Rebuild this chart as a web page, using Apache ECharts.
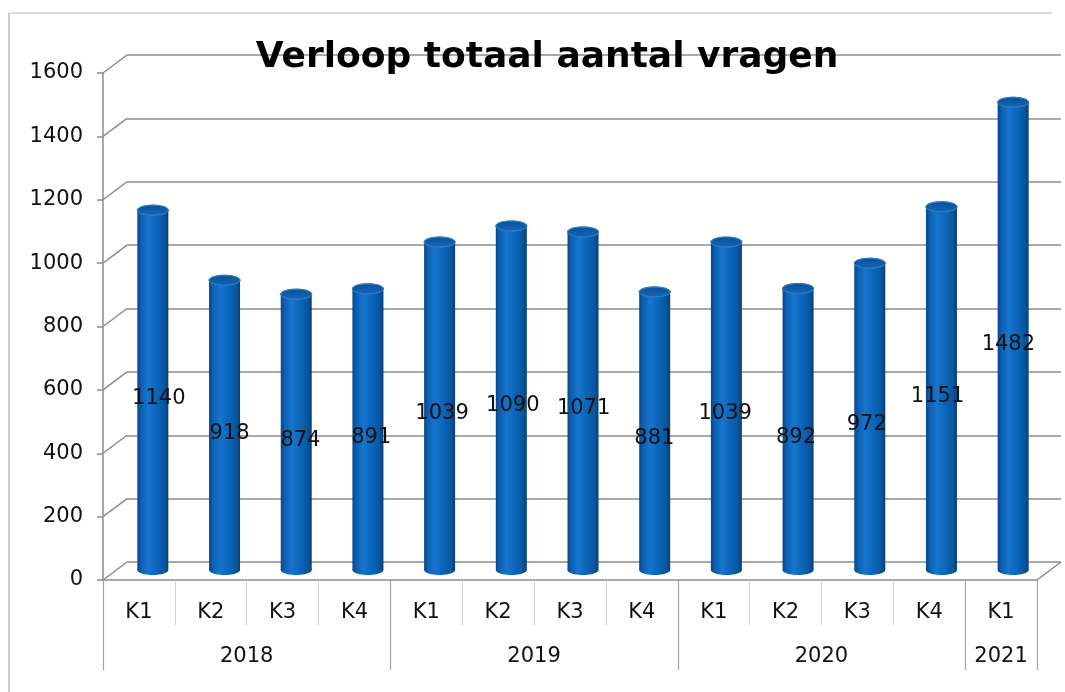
<!DOCTYPE html>
<html>
<head>
<meta charset="utf-8">
<title>Verloop totaal aantal vragen</title>
<script src="https://cdn.jsdelivr.net/npm/echarts@6/dist/echarts.min.js"></script>
<style>
    html, body { margin: 0; padding: 0; background: #fff; overflow: hidden; }
    #chart { width: 1065px; height: 692px; }
</style>
</head>
<body>
<div id="chart"></div>
<script>
// data
const quarters = ['K1', 'K2', 'K3', 'K4', 'K1', 'K2', 'K3', 'K4', 'K1', 'K2', 'K3', 'K4', 'K1']
const values = [1140, 918, 874, 891, 1039, 1090, 1071, 881, 1039, 892, 972, 1151, 1482]
const years = ['2018', '2019', '2020', '2021']
const yearSpans = [4, 4, 4, 1] // aantal kwartalen per jaar
const yTicks = [0, 200, 400, 600, 800, 1000, 1200, 1400, 1600]

const yMin = yTicks[0]
const yMax = yTicks[yTicks.length - 1]
const yStep = yTicks[1] - yTicks[0]

// jaargrenzen en -midden (in kwartalen)
const yearBounds = [0]
yearSpans.forEach(s => yearBounds.push(yearBounds[yearBounds.length - 1] + s))
const yearCenters = yearSpans.map((s, i) => yearBounds[i] + s / 2)

const font = 'DejaVu Sans'
const textColor = '#111'
const gridColor = '#8c8c8c'

// 3D-achtig: achterwand, voorvlak (assen), middenvlak (cilinders)
const grids = [
    { left: 127, top: 55, width: 934, height: 507 }, // achterwand
    { left: 103, top: 73, width: 934, height: 507 }, // voorvlak
    { left: 117, top: 65, width: 932, height: 505 } // cilinders
]

function valueAxis(gridIndex, extra) {
    const setting = {
        type: 'value',
        gridIndex,
        min: yMin,
        max: yMax,
        interval: yStep,
        axisLabel: { show: false },
        axisLine: { show: false },
        axisTick: { show: false },
        splitLine: { show: false }
    }
    return { ...setting, ...extra }
}

function hiddenCategory(gridIndex) {
    return { type: 'category', gridIndex, data: quarters, show: false }
}

const cylinderFill = {
    type: 'linear', x: 0, y: 0, x2: 1, y2: 0,
    colorStops: [
        { offset: 0, color: '#0a4686' },
        { offset: 0.12, color: '#0c5fb1' },
        { offset: 0.35, color: '#1675cc' },
        { offset: 0.65, color: '#0a64b8' },
        { offset: 0.88, color: '#08559d' },
        { offset: 1, color: '#083e76' }
    ]
}

function renderCylinder(params, api) {
    const idx = api.value(0)
    const top = api.coord([idx, api.value(1)])
    const base = api.coord([idx, 0])
    const w = 31
    const ry = 5
    const cx = top[0]
    const dx = 6 - params.dataIndex * 0.9 // labels schuiven iets mee met het perspectief
    return {
        type: 'group',
        children: [
            { type: 'ellipse', shape: { cx, cy: base[1], rx: w / 2, ry }, style: { fill: cylinderFill } },
            { type: 'rect', shape: { x: cx - w / 2, y: top[1], width: w, height: base[1] - top[1] }, style: { fill: cylinderFill } },
            {
                type: 'ellipse',
                shape: { cx, cy: top[1], rx: w / 2, ry },
                style: {
                    fill: { type: 'linear', x: 0, y: 0, x2: 0, y2: 1, colorStops: [{ offset: 0, color: '#0b4f98' }, { offset: 1, color: '#1367b8' }] },
                    stroke: '#2a7cc8',
                    lineWidth: 1
                }
            },
            {
                type: 'text',
                x: cx + dx,
                y: (top[1] + base[1]) / 2 + 8,
                style: {
                    text: String(api.value(1)),
                    fill: textColor,
                    font: '21px "' + font + '"',
                    align: 'center',
                    verticalAlign: 'middle'
                },
                z2: 10
            }
        ]
    }
}

const option = {
    backgroundColor: '#fff',
    animation: false,
    title: {
        text: 'Verloop totaal aantal vragen',
        left: 542,
        top: 35,
        textAlign: 'center',
        textStyle: { fontFamily: font, fontWeight: 'bold', fontSize: 36, color: '#000' }
    },
    grid: grids,
    xAxis: [
        hiddenCategory(0),
        { // kwartalen
            type: 'category',
            gridIndex: 1,
            data: quarters,
            axisLine: { show: true, lineStyle: { color: gridColor, width: 1.5 } },
            axisTick: { show: true, interval: 0, length: 45, lineStyle: { color: '#d0d0d0', width: 1 } },
            axisLabel: { interval: 0, margin: 22, fontFamily: font, fontSize: 21, color: textColor },
            splitLine: { show: false }
        },
        { // jaren
            type: 'value',
            gridIndex: 1,
            position: 'bottom',
            min: 0,
            max: quarters.length,
            axisLine: { show: false },
            axisTick: { show: true, customValues: yearBounds, length: 90, lineStyle: { color: '#a4a4a4', width: 1.2 } },
            axisLabel: {
                customValues: yearCenters,
                margin: 66,
                fontFamily: font,
                fontSize: 21,
                color: textColor,
                formatter: v => years[yearCenters.indexOf(v)]
            },
            splitLine: { show: false }
        },
        hiddenCategory(2)
    ],
    yAxis: [
        valueAxis(0, { splitLine: { show: true, lineStyle: { color: gridColor, width: 1.5 } } }),
        valueAxis(1, {
            axisLine: { show: true, lineStyle: { color: gridColor, width: 1.5 } },
            axisTick: { show: true, length: 6, lineStyle: { color: gridColor, width: 1.5 } },
            axisLabel: { show: true, margin: 20, fontFamily: font, fontSize: 21, color: textColor, formatter: v => String(v) }
        }),
        valueAxis(2)
    ],
    series: [{
        type: 'custom',
        xAxisIndex: 3,
        yAxisIndex: 2,
        renderItem: renderCylinder,
        data: values.map((v, i) => [i, v]),
        z: 5
    }]
}

const chart = echarts.init(document.getElementById('chart'))
chart.setOption(option)

// schuine verbindingen voorvlak -> achterwand en het kader
const lines = yTicks.map(t => {
    const p1 = chart.convertToPixel({ yAxisIndex: 1 }, t)
    const p0 = chart.convertToPixel({ yAxisIndex: 0 }, t)
    return { type: 'line', shape: { x1: grids[1].left, y1: p1, x2: grids[0].left, y2: p0 }, style: { stroke: gridColor, lineWidth: 1.5 }, silent: true }
})
const frontRight = grids[1].left + grids[1].width
const backRight = grids[0].left + grids[0].width
lines.push({
    type: 'line',
    shape: { x1: frontRight, y1: chart.convertToPixel({ yAxisIndex: 1 }, 0), x2: backRight, y2: chart.convertToPixel({ yAxisIndex: 0 }, 0) },
    style: { stroke: gridColor, lineWidth: 1.5 },
    silent: true
})
lines.push({ type: 'line', shape: { x1: 9, y1: 13, x2: 9, y2: 692 }, style: { stroke: '#bdbdbd', lineWidth: 1.5 }, silent: true })
lines.push({ type: 'line', shape: { x1: 9, y1: 13, x2: 1052, y2: 13 }, style: { stroke: '#d0d0d0', lineWidth: 1.5 }, silent: true })
chart.setOption({ graphic: lines })
</script>
</body>
</html>
